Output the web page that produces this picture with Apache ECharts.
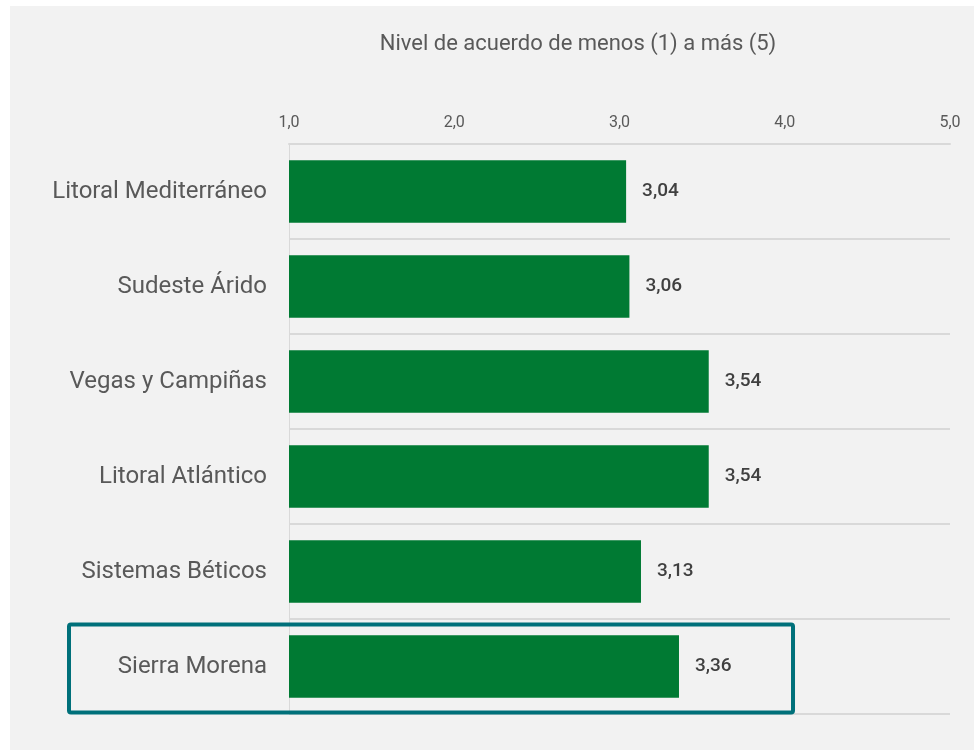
<!DOCTYPE html>
<html>
<head>
<meta charset="utf-8">
<script src="https://cdn.jsdelivr.net/npm/echarts@6/dist/echarts.min.js"></script>
<style>
  html, body { margin: 0; padding: 0; background: #ffffff; }
  #chart { position: absolute; left: 10px; top: 6px; width: 964px; height: 744px; background: #f2f2f2; }
</style>
</head>
<body>
<div id="chart"></div>
<script>
const categories = [
  "Litoral Mediterráneo",
  "Sudeste Árido",
  "Vegas y Campiñas",
  "Litoral Atlántico",
  "Sistemas Béticos",
  "Sierra Morena",
];
const values = [3.04, 3.06, 3.54, 3.54, 3.13, 3.36];
const axisTitle = "Nivel de acuerdo de menos (1) a más (5)";
const highlighted = "Sierra Morena";

const fontFamily = "Roboto, 'Noto Sans', sans-serif";
const comma = (v, d) => v.toFixed(d).replace(".", ",");

const chart = echarts.init(document.getElementById("chart"), null, { renderer: "canvas" });
chart.setOption({
  animation: false,
  backgroundColor: "transparent",
  textStyle: { fontFamily },
  title: {
    text: axisTitle,
    left: 563,
    top: 22,
    textAlign: "center",
    textStyle: { color: "#595959", fontSize: 22, fontWeight: "normal", fontFamily },
  },
  grid: { left: 279, right: 24, top: 138, bottom: 36 },
  xAxis: {
    type: "value",
    position: "top",
    min: 1,
    max: 5,
    interval: 1,
    axisLine: { show: true, lineStyle: { color: "#d9d9d9", width: 2 } },
    axisTick: { show: false },
    splitLine: { show: false },
    axisLabel: {
      color: "#595959",
      fontSize: 16,
      margin: 13,
      formatter: (v) => comma(v, 1),
    },
  },
  yAxis: {
    type: "category",
    data: categories,
    inverse: true,
    axisLine: { show: true, lineStyle: { color: "#d9d9d9", width: 1 } },
    axisTick: { show: false },
    splitLine: { show: true, lineStyle: { color: "#d9d9d9", width: 2 } },
    axisLabel: { color: "#595959", fontSize: 24, margin: 22 },
  },
  series: [
    {
      type: "bar",
      data: values,
      barCategoryGap: "34%",
      itemStyle: { color: "#007a33" },
      label: {
        show: true,
        position: "right",
        distance: 16,
        color: "#404040",
        fontSize: 19,
        fontWeight: 500,
        formatter: (p) => comma(p.value, 2),
      },
    },
  ],
});

// box around the highlighted region
const idx = categories.indexOf(highlighted);
const yc = chart.convertToPixel({ yAxisIndex: 0 }, idx);
const xr = chart.convertToPixel({ xAxisIndex: 0 }, 4.05);
chart.setOption({
  graphic: [
    {
      type: "rect",
      shape: { x: 59, y: yc - 42, width: xr - 59, height: 88, r: 2 },
      style: { fill: "none", stroke: "#00707a", lineWidth: 4 },
      z: 100,
    },
  ],
});
</script>
</body>
</html>
